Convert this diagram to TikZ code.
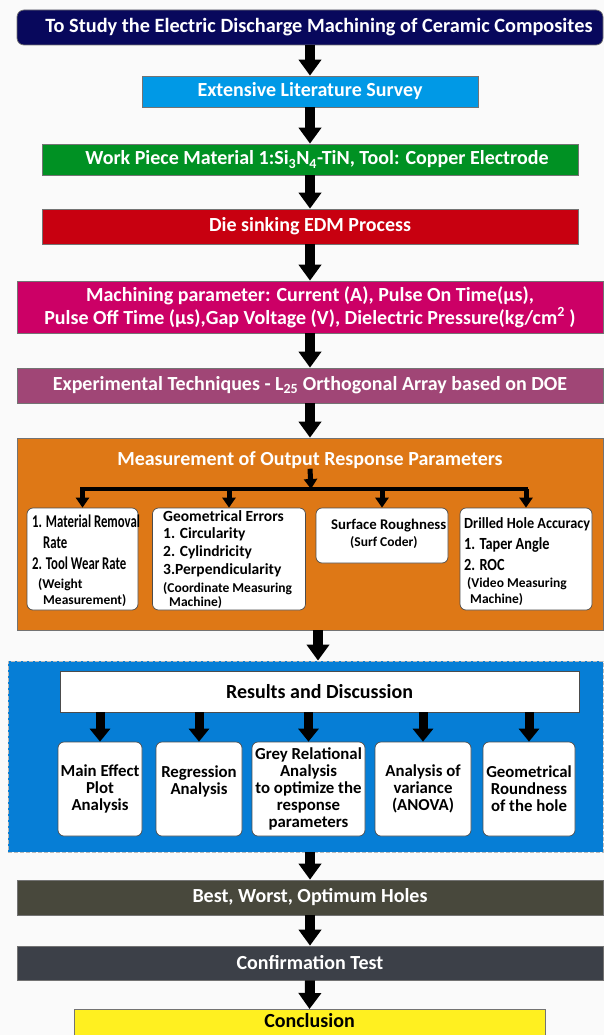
\documentclass[tikz,border=0pt]{standalone}
\usepackage{fontspec}
\setmainfont{Carlito}
\usetikzlibrary{arrows.meta}
\definecolor{navy}{RGB}{8,8,92}
\definecolor{skyb}{RGB}{0,153,230}
\definecolor{grn}{RGB}{0,145,35}
\definecolor{rd}{RGB}{200,0,16}
\definecolor{mag}{RGB}{204,0,102}
\definecolor{plum}{RGB}{160,70,118}
\definecolor{orng}{RGB}{222,120,22}
\definecolor{blu}{RGB}{6,126,214}
\definecolor{olivebox}{RGB}{72,72,60}
\definecolor{slatebox}{RGB}{60,64,72}
\definecolor{yel}{RGB}{255,240,32}
\definecolor{bg}{RGB}{250,250,250}
\newcommand{\cnd}[2]{\scalebox{#1}[1]{#2}}
\begin{document}
\begin{tikzpicture}[x=1pt,y=-1pt,
  band/.style={draw=black!55, line width=0.7pt, inner sep=0pt, text=white,
    font=\bfseries\fontsize{20}{23}\selectfont, align=center},
  wbox/.style={draw=black!70, line width=0.7pt, fill=white, rounded corners=6pt, inner sep=0pt},
  oline/.style={inner sep=0pt, anchor=base west, text=black, font=\bfseries\fontsize{15.5}{18}\selectfont},
  osmall/.style={oline, font=\bfseries\fontsize{13.5}{16}\selectfont},
  obig/.style={oline, font=\bfseries\fontsize{18}{20}\selectfont},
  rtext/.style={wbox, align=center, text=black, font=\bfseries\fontsize{16.8}{17}\selectfont},
  bigarrow/.style={line width=10pt, -{Triangle[width=22pt,length=16pt]}},
  resarrow/.style={line width=9pt, -{Triangle[width=20pt,length=13pt]}},
  smallarrow/.style={line width=5pt, -{Triangle[width=13pt,length=10pt]}},
  barline/.style={line width=4.5pt, line cap=rect}
]
\useasboundingbox (0,0) rectangle (604,1035);
\fill[bg] (0,0) rectangle (604,1035);

% main flow
\node[band, fill=navy, rounded corners=7pt, minimum width=586pt, minimum height=35pt,
  font=\bfseries\fontsize{20.3}{23}\selectfont] (title) at (310,27.5)
  {\hspace*{18pt}To Study the Electric Discharge Machining of Ceramic Composites};
\node[band, fill=skyb, minimum width=336pt, minimum height=31pt] (survey) at (310,91.5)
  {Extensive Literature Survey};
\node[band, fill=grn, minimum width=536pt, minimum height=31pt] (green) at (310,159.5)
  {\hspace*{14pt}Work Piece Material 1:Si\textsubscript{3}N\textsubscript{4}-TiN, Tool: Copper Electrode};
\node[band, fill=rd, minimum width=536pt, minimum height=35pt] (edm) at (310,226.5)
  {Die sinking EDM Process};
\node[band, fill=mag, minimum width=586pt, minimum height=52pt] (param) at (310,307)
  {Machining parameter: Current (A), Pulse On Time(µs),\\
   Pulse Off Time (µs),Gap Voltage (V), Dielectric Pressure(kg/cm\textsuperscript{2} )};
\node[band, fill=plum, minimum width=586pt, minimum height=35pt] (doe) at (310,385.5)
  {Experimental Techniques - L\textsubscript{25} Orthogonal Array based on DOE};

% measurement block
\node[band, fill=orng, minimum width=586pt, minimum height=192pt] (meas) at (310,534) {};
\node[inner sep=0pt, text=white, font=\bfseries\fontsize{20}{23}\selectfont] (mtitle) at (310,460)
  {Measurement of Output Response Parameters};
\node[wbox, minimum width=111pt, minimum height=102pt] (o1) at (82.5,559) {};
\node[wbox, minimum width=153pt, minimum height=102pt] (o2) at (229,559) {};
\node[wbox, minimum width=132pt, minimum height=55pt] (o3) at (382,535.5) {};
\node[wbox, minimum width=132pt, minimum height=102pt] (o4) at (526,559) {};
\coordinate (barc) at (311,489);

% box 1 text
\node[obig] (o1a) at (32,527) {\cnd{0.71}{1. Material Removal}};
\node[obig] (o1b) at (43,548) {\cnd{0.71}{Rate}};
\node[obig] (o1c) at (32,569) {\cnd{0.71}{2. Tool Wear Rate}};
\node[osmall] (o1d) at (38,588) {(Weight};
\node[osmall] (o1e) at (43,604) {Measurement)};
% box 2 text
\node[oline] (o2a) at (163,521) {Geometrical Errors};
\node[oline] (o2b) at (163,538) {1. Circularity};
\node[oline] (o2c) at (163,556) {2. Cylindricity};
\node[oline] (o2d) at (163,574) {3.Perpendicularity};
\node[osmall] (o2e) at (163,592) {(Coordinate Measuring};
\node[osmall] (o2f) at (169,606) {Machine)};
% box 3 text
\node[oline, font=\bfseries\fontsize{14.8}{17}\selectfont] (o3a) at (331,529) {Surface Roughness};
\node[osmall] (o3b) at (350,546) {(Surf Coder)};
% box 4 text
\node[oline] (o4a) at (464,528) {\cnd{0.92}{Drilled Hole Accuracy}};
\node[oline, font=\bfseries\fontsize{17}{20}\selectfont] (o4b) at (464,549) {\cnd{0.84}{1. Taper Angle}};
\node[oline, font=\bfseries\fontsize{17}{20}\selectfont] (o4c) at (464,570) {\cnd{0.84}{2. ROC}};
\node[osmall] (o4d) at (467,587) {(Video Measuring};
\node[osmall] (o4e) at (470,603) {Machine)};

\draw[smallarrow] (mtitle.south) -- (barc);
\draw[barline] (o1.north |- barc) -- (o4.north |- barc);
\draw[smallarrow] (o1.north |- barc) -- (o1.north);
\draw[smallarrow] (o2.north |- barc) -- (o2.north);
\draw[smallarrow] (o3.north |- barc) -- (o3.north);
\draw[smallarrow] (o4.north |- barc) -- (o4.north);

% results block
\node[fill=blu, draw=gray!55, dash pattern=on 4pt off 2pt, line width=0.8pt,
  minimum width=595pt, minimum height=191pt, inner sep=0pt] (resblk) at (305.5,756.5) {};
\node[draw=black!70, line width=0.7pt, fill=white, minimum width=519pt, minimum height=41pt,
  inner sep=0pt, font=\bfseries\fontsize{20}{23}\selectfont] (res) at (319.5,691.5)
  {Results and Discussion};
\node[rtext, minimum width=84pt, minimum height=94pt] (r1) at (100,789) {Main Effect\\Plot\\Analysis};
\node[rtext, minimum width=86pt, minimum height=94pt] (r2) at (199,789) {Regression\\Analysis\\\mbox{}};
\node[rtext, minimum width=113pt, minimum height=94pt] (r3) at (308.5,789)
  {Grey Relational\\Analysis\\to optimize the\\response\\parameters};
\node[rtext, minimum width=96pt, minimum height=94pt] (r4) at (423,789) {Analysis of\\variance\\(ANOVA)};
\node[rtext, minimum width=92pt, minimum height=94pt] (r5) at (529,789) {Geometrical\\Roundness\\of the hole};
\foreach \r in {r1,r2,r3,r4,r5}{
  \draw[resarrow] (res.south -| \r.north) -- (\r.north);
}

% final flow
\node[band, fill=olivebox, minimum width=586pt, minimum height=35pt] (best) at (310,897.5)
  {Best, Worst, Optimum Holes};
\node[band, fill=slatebox, minimum width=586pt, minimum height=34pt] (conf) at (310,963)
  {Confirmation Test};
\node[band, fill=yel, text=black, minimum width=471pt, anchor=north, inner ysep=2pt,
  text height=16pt, text depth=12pt] (concl) at (309.5,1009) {Conclusion};

% main arrows
\coordinate (mbot) at ([xshift=8pt]meas.south);
\draw[bigarrow] (title.south) -- (survey.north);
\draw[bigarrow] (survey.south) -- (green.north);
\draw[bigarrow] (green.south) -- (edm.north);
\draw[bigarrow] (edm.south) -- (param.north);
\draw[bigarrow] (param.south) -- (doe.north);
\draw[bigarrow] (doe.south) -- (meas.north);
\draw[bigarrow] (mbot) -- (resblk.north -| mbot);
\draw[bigarrow] (resblk.south -| best.north) -- (best.north);
\draw[bigarrow] (best.south) -- (conf.north);
\draw[bigarrow] (conf.south) -- (concl.north);
\end{tikzpicture}
\end{document}
